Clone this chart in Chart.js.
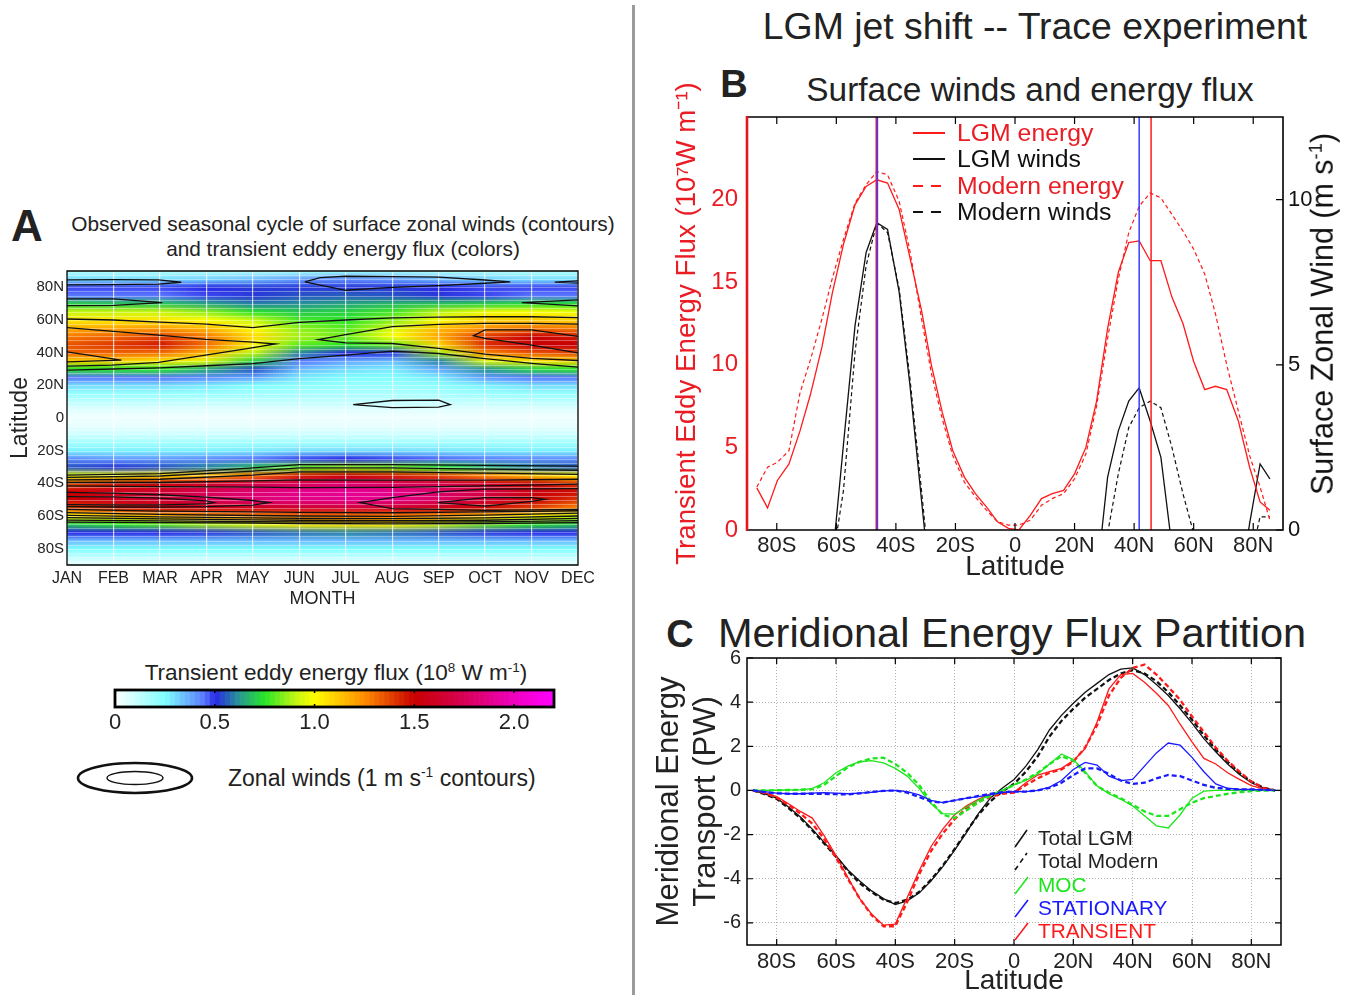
<!DOCTYPE html>
<html>
<head>
<meta charset="utf-8">
<title>LGM jet shift -- Trace experiment</title>
<script src="https://cdn.jsdelivr.net/npm/chart.js@4.4.1/dist/chart.umd.min.js"></script>
<style>
  body { margin: 0; background: #fff; }
  #page { position: relative; width: 1358px; height: 998px; overflow: hidden;
          font-family: "Liberation Sans", Arial, Helvetica, sans-serif; color: #222; }
  #page canvas { position: absolute; }
  .t { position: absolute; white-space: nowrap; line-height: 1; transform: translate(-50%, -50%); }
  .l { position: absolute; white-space: nowrap; line-height: 1; transform: translateY(-50%); }
  .rot { transform: translate(-50%, -50%) rotate(-90deg); }
  sup { font-size: 0.6em; vertical-align: 0.6em; line-height: 0; }
  .letter { font-weight: bold; }
</style>
</head>
<body>
<div id="page">
  <!-- panel A -->
  <div class="t letter" style="left:27px;top:226px;font-size:44px">A</div>
  <div class="t" style="left:343px;top:224px;font-size:20.8px">Observed seasonal cycle of surface zonal winds (contours)</div>
  <div class="t" style="left:343px;top:249px;font-size:20.8px">and transient eddy energy flux (colors)</div>
  <canvas id="chartA" width="620" height="360" style="left:0;top:260px;width:620px;height:360px"></canvas>
  <div class="t" style="left:336px;top:673px;font-size:22.5px">Transient eddy energy flux (10<sup>8</sup> W m<sup>-1</sup>)</div>
  <canvas id="chartBar" width="520" height="90" style="left:60px;top:650px;width:520px;height:90px"></canvas>
  <div class="l" style="left:228px;top:778px;font-size:23px">Zonal winds (1 m s<sup>-1</sup> contours)</div>

  <div style="position:absolute;left:632px;top:5px;width:3px;height:990px;background:#9b9b9b"></div>

  <!-- panel B -->
  <div class="t" style="left:1035px;top:27px;font-size:37.4px">LGM jet shift -- Trace experiment</div>
  <div class="t letter" style="left:734px;top:84px;font-size:38px">B</div>
  <div class="t" style="left:1030px;top:90px;font-size:33.4px">Surface winds and energy flux</div>
  <canvas id="chartB" width="718" height="515" style="left:640px;top:70px;width:718px;height:515px"></canvas>
  <div class="t rot" style="left:1322px;top:314px;font-size:30.5px;color:#111">Surface Zonal Wind (m s<sup>-1</sup>)</div>
  <div class="l" style="left:957px;top:133px;font-size:24.8px;color:#ea1c24">LGM energy</div>
  <div class="l" style="left:957px;top:159px;font-size:24.8px;color:#111">LGM winds</div>
  <div class="l" style="left:957px;top:186px;font-size:24.8px;color:#ea1c24">Modern energy</div>
  <div class="l" style="left:957px;top:212px;font-size:24.8px;color:#111">Modern winds</div>

  <!-- panel C -->
  <div class="t letter" style="left:680px;top:634px;font-size:38px">C</div>
  <div class="t" style="left:1012px;top:633px;font-size:41.5px">Meridional Energy Flux Partition</div>
  <canvas id="chartC" width="718" height="353" style="left:640px;top:645px;width:718px;height:353px"></canvas>
  <div class="l" style="left:1038px;top:838px;font-size:20.8px;color:#222">Total LGM</div>
  <div class="l" style="left:1038px;top:861px;font-size:20.8px;color:#222">Total Modern</div>
  <div class="l" style="left:1038px;top:885px;font-size:20.8px;color:#1ee61e">MOC</div>
  <div class="l" style="left:1038px;top:908px;font-size:20.8px;color:#1a1aff">STATIONARY</div>
  <div class="l" style="left:1038px;top:931px;font-size:20.8px;color:#ff1a1a">TRANSIENT</div>

  <svg width="1358" height="998" style="position:absolute;left:0;top:0;pointer-events:none">
    <ellipse cx="135" cy="778" rx="57" ry="15" fill="none" stroke="#111" stroke-width="2.6"/>
    <ellipse cx="135" cy="778" rx="28" ry="6.5" fill="none" stroke="#111" stroke-width="1.4"/>
    <line x1="913" y1="133" x2="945" y2="133" stroke="#ff1a1a" stroke-width="2"/>
    <line x1="913" y1="159" x2="945" y2="159" stroke="#111" stroke-width="2"/>
    <line x1="913" y1="186" x2="945" y2="186" stroke="#ff1a1a" stroke-width="2" stroke-dasharray="10 8"/>
    <line x1="913" y1="212" x2="945" y2="212" stroke="#111" stroke-width="2" stroke-dasharray="10 8"/>
    <line x1="1015" y1="847" x2="1027" y2="830" stroke="#111" stroke-width="1.6"/>
    <line x1="1015" y1="870" x2="1027" y2="853" stroke="#111" stroke-width="1.6" stroke-dasharray="5 4"/>
    <line x1="1015" y1="894" x2="1028" y2="877" stroke="#1ee61e" stroke-width="1.6"/>
    <line x1="1015" y1="917" x2="1028" y2="900" stroke="#1a1aff" stroke-width="1.6"/>
    <line x1="1015" y1="940" x2="1028" y2="923" stroke="#ff1a1a" stroke-width="1.6"/>
  </svg>
</div>

<script>
/* ---------- data: panel A ---------- */
const months = ['JAN', 'FEB', 'MAR', 'APR', 'MAY', 'JUN', 'JUL', 'AUG', 'SEP', 'OCT', 'NOV', 'DEC'];
const latTicks = [-80, -60, -40, -20, 0, 20, 40, 60, 80];

// transient eddy energy flux (1e8 W/m), rows from 90N to 90S, columns JAN..DEC
const fluxLats = [90, 85, 80, 75, 70, 65, 60, 55, 50, 45, 40, 35, 30, 25, 20, 15, 10, 5, 0,
                  -5, -10, -15, -20, -25, -30, -35, -40, -45, -50, -55, -60, -65, -70, -75, -80, -85, -90];
const fluxRows = [
  [0.15,0.15,0.15,0.15,0.15,0.18,0.2,0.18,0.15,0.15,0.15,0.15],
  [0.3,0.3,0.3,0.32,0.35,0.4,0.42,0.4,0.35,0.32,0.3,0.3],
  [0.48,0.48,0.48,0.5,0.52,0.52,0.52,0.52,0.5,0.48,0.48,0.48],
  [0.45,0.45,0.45,0.48,0.52,0.55,0.56,0.55,0.52,0.48,0.45,0.45],
  [0.72,0.7,0.7,0.65,0.6,0.62,0.65,0.68,0.7,0.72,0.74,0.74],
  [0.92,0.92,0.92,0.85,0.75,0.7,0.72,0.78,0.9,0.98,1.0,0.98],
  [1.05,1.05,1.05,1.0,0.92,0.78,0.75,0.85,1.0,1.1,1.12,1.1],
  [1.18,1.2,1.22,1.15,1.0,0.85,0.8,0.95,1.15,1.25,1.3,1.28],
  [1.28,1.32,1.38,1.28,1.08,0.88,0.82,1.0,1.2,1.4,1.5,1.45],
  [1.35,1.4,1.45,1.3,1.02,0.8,0.75,0.82,1.1,1.42,1.52,1.5],
  [1.32,1.32,1.3,1.15,0.9,0.6,0.5,0.52,0.88,1.25,1.35,1.38],
  [1.1,1.1,1.05,0.95,0.72,0.45,0.38,0.35,0.6,0.95,1.05,1.1],
  [0.75,0.75,0.75,0.65,0.55,0.35,0.3,0.28,0.38,0.62,0.72,0.75],
  [0.45,0.45,0.45,0.42,0.38,0.28,0.25,0.24,0.28,0.4,0.45,0.45],
  [0.3,0.3,0.3,0.28,0.25,0.22,0.2,0.2,0.22,0.27,0.3,0.3],
  [0.2,0.2,0.2,0.2,0.18,0.17,0.16,0.16,0.17,0.19,0.2,0.2],
  [0.13,0.13,0.13,0.12,0.12,0.12,0.12,0.12,0.12,0.12,0.13,0.13],
  [0.06,0.06,0.06,0.06,0.06,0.06,0.06,0.06,0.06,0.06,0.06,0.06],
  [0.03,0.03,0.03,0.03,0.03,0.03,0.03,0.03,0.03,0.03,0.03,0.03],
  [0.05,0.05,0.05,0.05,0.05,0.05,0.05,0.05,0.05,0.05,0.05,0.05],
  [0.1,0.1,0.1,0.1,0.1,0.1,0.1,0.1,0.1,0.1,0.1,0.1],
  [0.18,0.18,0.18,0.18,0.18,0.18,0.18,0.18,0.18,0.18,0.18,0.18],
  [0.27,0.27,0.27,0.27,0.28,0.3,0.3,0.3,0.29,0.28,0.27,0.27],
  [0.42,0.4,0.4,0.42,0.45,0.48,0.5,0.48,0.46,0.44,0.42,0.42],
  [0.55,0.52,0.55,0.6,0.68,0.8,0.85,0.82,0.75,0.66,0.6,0.56],
  [0.95,0.98,1.05,1.15,1.3,1.45,1.5,1.45,1.38,1.25,1.12,1.02],
  [1.35,1.45,1.5,1.6,1.7,1.75,1.8,1.75,1.7,1.6,1.5,1.4],
  [1.5,1.58,1.65,1.75,1.82,1.88,1.9,1.88,1.8,1.7,1.55,1.48],
  [1.5,1.58,1.65,1.75,1.82,1.86,1.88,1.86,1.78,1.65,1.5,1.4],
  [1.35,1.45,1.5,1.55,1.58,1.62,1.65,1.62,1.55,1.48,1.38,1.25],
  [1.0,1.1,1.15,1.2,1.25,1.3,1.3,1.28,1.22,1.12,1.02,0.92],
  [0.7,0.75,0.8,0.88,0.95,1.02,1.05,1.02,0.92,0.82,0.75,0.7],
  [0.5,0.5,0.5,0.52,0.55,0.58,0.6,0.58,0.55,0.52,0.5,0.5],
  [0.35,0.35,0.35,0.35,0.35,0.35,0.35,0.35,0.35,0.35,0.35,0.35],
  [0.25,0.25,0.25,0.25,0.25,0.25,0.25,0.25,0.25,0.25,0.25,0.25],
  [0.12,0.12,0.12,0.12,0.12,0.12,0.12,0.12,0.12,0.12,0.12,0.12],
  [0.04,0.04,0.04,0.04,0.04,0.04,0.04,0.04,0.04,0.04,0.04,0.04]
];

// zonal wind contours, each a list of [month, latitude]
const windContours = [
  [[1,84.6],[2,84.7],[2.97,84.6],[3.46,83.1],[2.97,82],[2,81.6],[1,81.5]],
  [[1,72.9],[2,72.9],[3.05,70.6],[2,69],[1,68.8]],
  [[1,60.6],[2,60],[3,58.7],[4,57.5],[5,55.3],[6,58.5],[7,60],[8,61.3],[9,61.8],[10,62],[11,62],[12,61.5]],
  [[1,55.3],[2,53],[2.97,50.8],[3.98,48.1],[5,46.5],[5.49,45.3],[4.91,42.6],[3.98,38.5],[2.97,34],[1.97,32.4],[1,31.8]],
  [[1,40.5],[2.17,35.4],[1,34.4]],
  [[1,29.3],[2,30],[3,30.7],[4,32],[5,33.3],[6,36.4],[7,38.5],[8,41],[9,39.5],[10,36.4],[11,33.5],[12,31.1]],
  [[6.12,83.3],[6.45,86],[7,86.8],[8,86.6],[9,86.2],[10,84.5],[10.54,83.3],[10,82.5],[9,81],[8,80],[7,78.2],[6.12,83.3]],
  [[12,84],[11.5,83.2],[12,82.6]],
  [[12,72.3],[10.79,70.6],[12,68.6]],
  [[12,57.5],[11,57.9],[10,57.9],[9,57.3],[8,55.9],[7,51],[6.41,48],[7,46],[8,45.6],[9,42.6],[10,39.1],[11,36.5],[12,35.2]],
  [[12,50],[11,53.9],[10,53.9],[9.75,50.4],[10,48.7],[11,44.6],[12,39.9]],
  [[7.16,8.2],[8,10.7],[9,10.9],[9.25,8.2],[9,6.6],[8,6.4],[7.16,8.2]],
  [[1,-35],[3,-34],[5,-30.5],[6,-28.5],[8,-28.5],[10,-29],[12,-29.5]],
  [[1,-36.4],[3,-35.5],[5,-32.5],[6,-30.5],[8,-30.5],[10,-31.3],[12,-32]],
  [[1,-37.9],[3,-37.5],[5,-35],[6,-33],[8,-33],[10,-33.8],[12,-34.5]],
  [[1,-39.5],[3,-39.5],[5,-38.5],[6,-37.9],[8,-38],[10,-38],[12,-37.5]],
  [[1,-41.6],[3,-42],[5,-42.3],[6,-42.6],[8,-42.5],[10,-41.5],[12,-40.5]],
  [[1,-48.1],[2,-48.3],[3,-49],[4,-50.8],[4.16,-51.8],[4,-52.6],[3,-53.2],[2,-53.2],[1,-53]],
  [[1,-45.5],[2,-46],[3,-47],[4,-48.5],[5,-50.5],[5.35,-51.8],[5,-53.3],[4,-54.3],[3,-54.6],[2,-54.5],[1,-54.3]],
  [[12,-43.2],[11,-43.4],[10,-43.6],[9,-45.2],[8,-48.7],[7.31,-51.8],[8,-55.5],[9,-56],[10,-56.5],[11,-56.2],[12,-55.9]],
  [[8.99,-51.8],[10,-48.8],[11,-48.7],[11.29,-49.8],[11,-51],[10,-54],[8.99,-51.8]],
  [[1,-55.9],[3,-57],[5,-57.5],[6,-57.8],[8,-58],[10,-57.5],[12,-56.8]],
  [[1,-57.9],[3,-59],[5,-59.7],[6,-60],[8,-60.2],[10,-59.5],[12,-58.3]],
  [[1,-59.6],[3,-60.5],[5,-61.2],[6,-61.5],[8,-61.6],[10,-61.2],[12,-60]],
  [[1,-61],[3,-61.8],[5,-62.4],[6,-62.6],[8,-62.8],[10,-62.6],[12,-61.5]],
  [[1,-62.5],[3,-63],[5,-63.4],[6,-63.6],[8,-63.8],[10,-63.6],[12,-62.8]],
  [[1,-63.7],[3,-64],[5,-64.3],[6,-64.6],[8,-64.8],[10,-64.6],[12,-64]]
];

const barMax = 2.2;
const barTicks = [0, 0.5, 1.0, 1.5, 2.0];

/* ---------- data: panel B ---------- */
const latB = [-86.7,-83.1,-79.8,-75.9,-72.2,-68.7,-64.8,-61.4,-57.6,-53.7,-50,-46.4,-42.8,-38.9,-35.3,-31.4,
              -28.1,-24.4,-20.9,-17,-13.3,-9.6,-5.9,-2.2,1.3,5.2,8.9,12.5,16.3,20,23.8,27.4,
              31.1,34.7,38.2,41.7,45.4,49,52.7,56.4,60,63.7,67.3,71.1,75,78.8,82.3,85.6];
const lgmEnergy = [2.55,1.34,3.0,4.0,6.0,8.2,11.1,14.3,17.3,19.7,20.8,21.2,21.0,19.4,16.5,13.3,
                   10.0,7.1,4.8,3.2,2.2,1.4,0.5,0.1,0.0,0.9,1.9,2.2,2.4,3.4,5.0,7.8,
                   12.2,15.6,17.4,17.5,16.3,16.3,14.1,12.5,10.2,8.5,8.7,8.5,6.6,3.8,1.7,1.2];
const modernEnergy = [2.6,3.8,4.1,4.8,8.3,10.3,12.8,15.2,17.6,19.8,20.9,21.7,21.5,19.9,16.9,12.8,
                      9.5,6.7,4.5,2.9,2.0,1.2,0.5,0.3,0.3,0.6,1.5,1.9,2.2,3.1,4.6,7.5,
                      11.6,15.2,18.0,19.6,20.4,20.1,19.1,18.1,17.0,15.5,13.1,10.0,7.2,4.5,2.6,0.6];
const lgmWinds = [null,null,null,null,null,null,null,-1.0,2.6,6.2,8.4,9.3,9.1,7.2,4.4,0.9,
                  -2.0,null,null,null,null,null,null,null,null,null,null,null,null,null,null,-1.5,
                  1.6,3.0,3.9,4.3,3.3,2.2,-0.5,null,null,null,null,null,-2.0,0.2,2.0,1.55];
const modernWinds = [null,null,null,null,null,null,null,-1.0,1.2,5.4,8.0,9.3,9.0,7.3,4.6,1.2,
                     -1.8,null,null,null,null,null,null,null,null,null,null,null,null,null,null,null,
                     -0.1,1.7,3.1,3.7,3.9,3.7,2.5,1.1,-0.1,null,null,null,null,-1.0,0.4,0.4];
const energyPeakLats = [-46.6, 45.7];
const windPeakLats = [-46.2, 41.7];

/* ---------- data: panel C ---------- */
const latC = [-88,-84,-80,-76,-72,-68,-64,-60,-56,-52,-48,-44,-40,-36,-32,-28,-24,-20,-16,-12,-8,-4,
              0,4,8,12,16,20,24,28,32,36,40,44,48,52,56,60,64,68,72,76,80,84,88];
const totalLGM = [0,-0.15,-0.35,-0.75,-1.2,-1.75,-2.35,-2.95,-3.6,-4.1,-4.55,-4.9,-5.17,-5.0,-4.65,-4.1,-3.45,-2.7,-1.9,-1.05,-0.35,0.1,
                  0.5,1.1,1.85,2.75,3.4,3.95,4.45,4.85,5.25,5.5,5.55,5.25,4.8,4.3,3.7,3.05,2.35,1.75,1.2,0.72,0.35,0.12,0];
const totalModern = [0,-0.17,-0.38,-0.8,-1.25,-1.8,-2.4,-3.0,-3.65,-4.2,-4.6,-4.95,-5.1,-4.95,-4.6,-4.05,-3.4,-2.65,-1.85,-1.1,-0.5,-0.05,
                     0.3,0.85,1.55,2.45,3.15,3.7,4.2,4.6,5.0,5.3,5.45,5.3,4.95,4.45,3.85,3.2,2.5,1.85,1.3,0.8,0.4,0.13,0];
const transientLGM = [0,-0.1,-0.28,-0.6,-0.95,-1.25,-2.05,-2.95,-3.95,-4.9,-5.6,-6.1,-6.05,-4.85,-3.65,-2.55,-1.75,-1.1,-0.7,-0.4,-0.15,-0.08,
                      -0.08,0.35,0.7,0.85,1.0,1.35,1.9,3.1,4.6,5.25,5.3,4.9,4.4,3.85,3.0,2.2,1.45,1.2,0.8,0.5,0.22,0.07,0];
const transientModern = [0,-0.12,-0.32,-0.65,-1.05,-1.5,-2.2,-3.05,-4.0,-4.9,-5.65,-6.15,-6.15,-5.05,-3.8,-2.75,-1.95,-1.3,-0.8,-0.5,-0.3,-0.15,
                         -0.1,0.25,0.55,0.8,0.95,1.3,1.95,2.95,4.3,5.1,5.55,5.7,5.25,4.7,4.1,3.35,2.65,1.95,1.35,0.85,0.4,0.12,0];
const mocLGM = [0,0,0.01,0.02,0.04,0.08,0.35,0.8,1.1,1.3,1.35,1.25,1.0,0.65,0.1,-0.6,-1.05,-1.07,-0.75,-0.45,-0.2,0.0,
                0.25,0.45,0.75,1.2,1.65,1.4,0.85,0.2,-0.15,-0.4,-0.7,-1.15,-1.6,-1.7,-1.1,-0.35,-0.03,0,0,0,0,0,0];
const mocModern = [0,0,0.01,0.02,0.03,0.06,0.25,0.65,1.05,1.3,1.45,1.48,1.2,0.8,0.25,-0.5,-1.1,-1.25,-0.9,-0.55,-0.25,-0.02,
                   0.25,0.5,0.8,1.2,1.55,1.35,0.8,0.2,-0.1,-0.35,-0.65,-0.95,-1.15,-1.15,-0.85,-0.55,-0.35,-0.25,-0.15,-0.08,-0.03,-0.01,0];
const stationaryLGM = [0,-0.05,-0.12,-0.15,-0.15,-0.12,-0.1,-0.12,-0.15,-0.12,-0.08,-0.02,0.0,-0.05,-0.2,-0.45,-0.55,-0.45,-0.35,-0.28,-0.2,-0.1,
                       -0.05,-0.05,0.0,0.15,0.45,0.95,1.27,1.15,0.65,0.45,0.5,1.1,1.7,2.15,2.05,1.5,0.85,0.3,0.1,0.05,0.05,0.03,0];
const stationaryModern = [0,-0.08,-0.13,-0.15,-0.15,-0.15,-0.15,-0.17,-0.18,-0.13,-0.07,-0.02,0.0,-0.1,-0.3,-0.5,-0.55,-0.45,-0.35,-0.25,-0.15,-0.08,
                          -0.05,-0.05,0.0,0.12,0.35,0.7,1.0,1.0,0.75,0.45,0.3,0.35,0.55,0.7,0.65,0.45,0.25,0.12,0.07,0.05,0.05,0.03,0];

/* ---------- helpers ---------- */
Chart.defaults.font.family = '"Liberation Sans", Arial, Helvetica, sans-serif';
Chart.defaults.color = '#222';
Chart.defaults.animation = false;
Chart.defaults.plugins.legend.display = false;
Chart.defaults.plugins.tooltip.enabled = false;

const RED = '#ff1a1a', GREEN = '#1ee61e', BLUE = '#1a1aff', TEXTRED = '#ea1c24';

function latLabel(v) {
    if (v === 0) return '0';
    return Math.abs(v) + (v < 0 ? 'S' : 'N');
}
function pts(xs, ys) {
    return xs.map((x, i) => ({x: x, y: ys[i]}));
}
function setTicks(list) {
    return function(scale) { scale.ticks = list.map(v => ({value: v})); };
}
// fixed axis size; no extra room reserved for the end tick labels
function fixWidth(w) {
    return function(s) { s.width = w; s.paddingTop = 0; s.paddingBottom = 0; };
}
function fixHeight(h) {
    return function(s) { s.height = h; s.paddingLeft = 0; s.paddingRight = 0; };
}

// colour map of the flux colorbar
const cmapStops = [
    [0, [255,255,255]], [0.25, [128,255,255]], [0.45, [90,120,255]], [0.5, [40,40,230]],
    [0.62, [40,150,150]], [0.75, [40,230,40]], [0.9, [190,245,20]], [1.0, [255,255,0]],
    [1.25, [255,140,0]], [1.5, [200,0,0]], [1.75, [215,0,85]], [2.0, [240,0,190]], [2.2, [255,0,255]]
];
function fluxColor(v) {
    if (v <= cmapStops[0][0]) return cmapStops[0][1];
    for (let i = 1; i < cmapStops.length; i++) {
        const [v1, c1] = cmapStops[i];
        if (v <= v1) {
            const [v0, c0] = cmapStops[i - 1];
            const f = (v - v0) / (v1 - v0);
            return c0.map((c, k) => Math.round(c + (c1[k] - c) * f));
        }
    }
    return cmapStops[cmapStops.length - 1][1];
}

/* box around the plot and inward tick marks */
const framePlugin = {
    id: 'frame',
    afterDatasetsDraw(chart, args, opts) {
        const {ctx, chartArea: a, scales} = chart;
        const len = opts.tickLen || 6;
        ctx.save();
        ctx.strokeStyle = '#000';
        ctx.lineWidth = 1.2;
        ctx.beginPath();
        (opts.xMarks || []).forEach(side => scales.x.ticks.forEach(t => {
            const px = scales.x.getPixelForValue(t.value);
            const y0 = side === 'top' ? a.top : a.bottom;
            ctx.moveTo(px, y0);
            ctx.lineTo(px, side === 'top' ? y0 + len : y0 - len);
        }));
        (opts.yMarks || []).forEach(([id, side]) => scales[id].ticks.forEach(t => {
            const py = scales[id].getPixelForValue(t.value);
            const x0 = side === 'left' ? a.left : a.right;
            ctx.moveTo(x0, py);
            ctx.lineTo(side === 'left' ? x0 + len : x0 - len, py);
        }));
        ctx.stroke();

        ctx.lineWidth = opts.width || 1.5;
        ctx.beginPath();
        ctx.moveTo(a.left, a.top);
        ctx.lineTo(a.right, a.top);
        ctx.lineTo(a.right, a.bottom);
        ctx.lineTo(a.left, a.bottom);
        if (!opts.leftColor) ctx.closePath();
        ctx.stroke();
        if (opts.leftColor) {
            ctx.strokeStyle = opts.leftColor;
            ctx.lineWidth = opts.leftWidth || 2.5;
            ctx.beginPath();
            ctx.moveTo(a.left, a.top - 1);
            ctx.lineTo(a.left, a.bottom + 1);
            ctx.stroke();
        }
        ctx.restore();
    }
};

/* shaded flux field under the contours (bilinear between grid points) */
const heatPlugin = {
    id: 'heat',
    beforeDraw(chart) {
        const {ctx, chartArea: a, scales: {x, y}} = chart;
        const rows = fluxLats.length, cols = months.length;
        const off = document.createElement('canvas');
        off.width = cols;
        off.height = rows;
        const octx = off.getContext('2d');
        const img = octx.createImageData(cols, rows);
        fluxRows.forEach((row, r) => row.forEach((v, c) => {
            const col = fluxColor(v);
            const i = (r * cols + c) * 4;
            img.data[i] = col[0]; img.data[i + 1] = col[1]; img.data[i + 2] = col[2]; img.data[i + 3] = 255;
        }));
        octx.putImageData(img, 0, 0);
        const halfLat = (fluxLats[0] - fluxLats[1]) / 2;
        const x0 = x.getPixelForValue(0.5), x1 = x.getPixelForValue(cols + 0.5);
        const y0 = y.getPixelForValue(fluxLats[0] + halfLat), y1 = y.getPixelForValue(fluxLats[rows - 1] - halfLat);
        ctx.save();
        ctx.beginPath();
        ctx.rect(a.left, a.top, a.width, a.height);
        ctx.clip();
        ctx.imageSmoothingEnabled = true;
        ctx.imageSmoothingQuality = 'low';
        ctx.drawImage(off, x0, y0, x1 - x0, y1 - y0);
        // the original shading shows fine light rows (one per model latitude)
        ctx.strokeStyle = 'rgba(255,255,255,0.35)';
        ctx.lineWidth = 1;
        ctx.beginPath();
        for (let lat = -90; lat <= 90; lat += 2.5) {
            const py = Math.round(y.getPixelForValue(lat)) + 0.5;
            ctx.moveTo(a.left, py);
            ctx.lineTo(a.right, py);
        }
        ctx.stroke();
        ctx.restore();
    }
};

/* ---------- panel A ---------- */
new Chart(document.getElementById('chartA'), {
    type: 'scatter',
    data: {
        datasets: windContours.map(c => ({
            data: c.map(p => ({x: p[0], y: p[1]})),
            showLine: true,
            borderColor: '#111',
            borderWidth: 1.3,
            pointRadius: 0,
        }))
    },
    options: {
        responsive: false,
        layout: {padding: {top: 11, right: 42, left: 0, bottom: 0}},
        scales: {
            x: {
                type: 'linear', min: 1, max: 12,
                afterBuildTicks: setTicks(months.map((m, i) => i + 1)),
                afterFit: fixHeight(55),
                ticks: {callback: v => months[v - 1], font: {size: 16}, padding: 4, maxRotation: 0, autoSkip: false},
                grid: {color: 'rgba(255,255,255,0.75)', lineWidth: 1.2, drawTicks: false},
                border: {display: false},
                title: {display: true, text: 'MONTH', font: {size: 18}, padding: {top: 0, bottom: 10}}
            },
            y: {
                type: 'linear', min: -90, max: 90,
                afterBuildTicks: setTicks(latTicks),
                afterFit: fixWidth(67),
                ticks: {callback: latLabel, font: {size: 15}, padding: 3},
                grid: {display: false, drawTicks: false},
                border: {display: false},
                title: {display: true, text: 'Latitude', font: {size: 23}, padding: {top: 7, bottom: 0}}
            }
        },
        plugins: {frame: {width: 1.3}}
    },
    plugins: [heatPlugin, framePlugin]
});

/* ---------- colorbar ---------- */
const colorbarPlugin = {
    id: 'colorbar',
    beforeDatasetsDraw(chart) {
        const {ctx, chartArea: a, scales: {x}} = chart;
        const step = 0.025;
        ctx.save();
        for (let v = 0; v < barMax - 1e-9; v += step) {
            const px0 = x.getPixelForValue(v);
            const px1 = x.getPixelForValue(Math.min(v + step, barMax));
            const c = fluxColor(v + step / 2);
            ctx.fillStyle = 'rgb(' + c[0] + ',' + c[1] + ',' + c[2] + ')';
            ctx.fillRect(px0, a.top, px1 - px0 + 0.7, a.height);
        }
        ctx.strokeStyle = '#000';
        ctx.lineWidth = 1.5;
        ctx.beginPath();
        barTicks.slice(1).forEach(v => {
            const px = x.getPixelForValue(v);
            ctx.moveTo(px, a.top); ctx.lineTo(px, a.top + 3);
            ctx.moveTo(px, a.bottom); ctx.lineTo(px, a.bottom - 3);
        });
        ctx.stroke();
        ctx.lineWidth = 2.8;
        ctx.strokeRect(a.left, a.top, a.width, a.height);
        ctx.restore();
    }
};

new Chart(document.getElementById('chartBar'), {
    type: 'scatter',
    data: {datasets: []},
    options: {
        responsive: false,
        layout: {padding: {top: 40, right: 26, left: 55, bottom: 0}},
        scales: {
            x: {
                type: 'linear', min: 0, max: barMax,
                afterBuildTicks: setTicks(barTicks),
                afterFit: fixHeight(33),
                ticks: {callback: v => v === 0 ? '0' : v.toFixed(1), font: {size: 22}, padding: 3, maxRotation: 0, autoSkip: false},
                grid: {display: false, drawTicks: false},
                border: {display: false}
            },
            y: {display: false, min: 0, max: 1}
        }
    },
    plugins: [colorbarPlugin]
});

/* ---------- panel B ---------- */
function vline(lat, color) {
    return {
        data: [{x: lat, y: 0}, {x: lat, y: 25}],
        showLine: true, borderColor: color, borderWidth: 1.5, pointRadius: 0, yAxisID: 'y'
    };
}

new Chart(document.getElementById('chartB'), {
    type: 'scatter',
    data: {
        datasets: [
            vline(windPeakLats[0], '#3a3aff'),
            vline(windPeakLats[1], '#3a3aff'),
            vline(energyPeakLats[0], RED),
            vline(energyPeakLats[1], RED),
            {data: pts(latB, lgmEnergy), showLine: true, borderColor: RED, borderWidth: 1.3, pointRadius: 0, yAxisID: 'y'},
            {data: pts(latB, modernEnergy), showLine: true, borderColor: RED, borderWidth: 1.2, borderDash: [4, 3], pointRadius: 0, yAxisID: 'y'},
            {data: pts(latB, lgmWinds), showLine: true, borderColor: '#111', borderWidth: 1.3, pointRadius: 0, yAxisID: 'y2', spanGaps: false},
            {data: pts(latB, modernWinds), showLine: true, borderColor: '#111', borderWidth: 1.2, borderDash: [4, 3], pointRadius: 0, yAxisID: 'y2', spanGaps: false}
        ]
    },
    options: {
        responsive: false,
        layout: {padding: {top: 47, right: 0, left: 0, bottom: 0}},
        scales: {
            x: {
                type: 'linear', min: -90, max: 90,
                afterBuildTicks: setTicks(latTicks),
                afterFit: fixHeight(55),
                ticks: {callback: latLabel, font: {size: 22}, padding: 3, maxRotation: 0, autoSkip: false},
                grid: {display: false, drawTicks: false},
                border: {display: false},
                title: {display: true, text: 'Latitude', font: {size: 28}, padding: {top: 0, bottom: 1}}
            },
            y: {
                position: 'left', min: 0, max: 25,
                afterBuildTicks: setTicks([0, 5, 10, 15, 20]),
                afterFit: fixWidth(107),
                ticks: {color: TEXTRED, font: {size: 24}, padding: 9},
                grid: {display: false, drawTicks: false},
                border: {display: false},
                title: {display: true, text: 'Transient Eddy Energy Flux (10\u2077W m\u207B\u00B9)', color: TEXTRED,
                        font: {size: 27.7}, padding: {top: 31, bottom: 0}}
            },
            y2: {
                position: 'right', min: 0, max: 12.5,
                afterBuildTicks: setTicks([0, 5, 10]),
                afterFit: fixWidth(75),
                ticks: {color: '#111', font: {size: 22}, padding: 5},
                grid: {display: false, drawTicks: false},
                border: {display: false}
            }
        },
        plugins: {frame: {width: 1.6, tickLen: 7, leftColor: '#e8141c', leftWidth: 2.6,
                          xMarks: ['top', 'bottom'], yMarks: [['y2', 'right']]}}
    },
    plugins: [framePlugin]
});

/* ---------- panel C ---------- */
function lineC(ys, color, dashed) {
    return {
        data: pts(latC, ys), showLine: true, borderColor: color, pointRadius: 0,
        borderWidth: dashed ? 2.3 : 1.3, borderDash: dashed ? [5, 3] : []
    };
}

new Chart(document.getElementById('chartC'), {
    type: 'scatter',
    data: {
        datasets: [
            lineC(stationaryLGM, BLUE, false),
            lineC(stationaryModern, BLUE, true),
            lineC(mocLGM, GREEN, false),
            lineC(mocModern, GREEN, true),
            lineC(transientLGM, RED, false),
            lineC(transientModern, RED, true),
            lineC(totalLGM, '#111', false),
            lineC(totalModern, '#111', true)
        ]
    },
    options: {
        responsive: false,
        layout: {padding: {top: 13, right: 77, left: 0, bottom: 0}},
        scales: {
            x: {
                type: 'linear', min: -90, max: 90,
                afterBuildTicks: setTicks(latTicks),
                afterFit: fixHeight(53),
                ticks: {callback: latLabel, font: {size: 22}, padding: 4, maxRotation: 0, autoSkip: false},
                grid: {color: '#b4b4b4', lineWidth: 1, drawTicks: false},
                border: {display: false, dash: [1, 2]},
                title: {display: true, text: 'Latitude', font: {size: 28}, padding: {top: 0, bottom: 0}}
            },
            y: {
                min: -7, max: 6,
                afterBuildTicks: setTicks([-6, -4, -2, 0, 2, 4, 6]),
                afterFit: fixWidth(107),
                ticks: {font: {size: 20}, padding: 6},
                grid: {color: '#b4b4b4', lineWidth: 1, drawTicks: false},
                border: {display: false, dash: [1, 2]},
                title: {display: true, text: ['Meridional Energy', 'Transport (PW)'], font: {size: 31},
                        padding: {top: 11, bottom: 0}}
            }
        },
        plugins: {frame: {width: 1.5, tickLen: 6, xMarks: ['top', 'bottom'], yMarks: [['y', 'left'], ['y', 'right']]}}
    },
    plugins: [framePlugin]
});
</script>
</body>
</html>
